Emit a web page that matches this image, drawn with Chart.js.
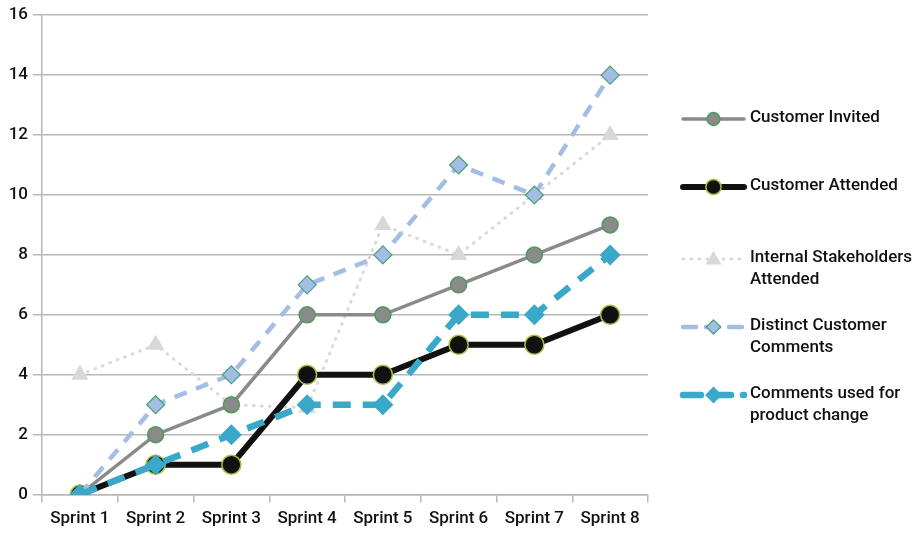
<!DOCTYPE html>
<html>
<head>
<meta charset="utf-8">
<script src="https://cdn.jsdelivr.net/npm/chart.js@4/dist/chart.umd.min.js"></script>
<style>
  html, body { margin: 0; padding: 0; background: #fff; }
  #wrap { width: 919px; height: 534px; position: relative; }
</style>
</head>
<body>
<div id="wrap"><canvas id="c" width="919" height="534"></canvas></div>
<script>
// Sprint review participation and feedback
const sprints = ['Sprint 1', 'Sprint 2', 'Sprint 3', 'Sprint 4', 'Sprint 5', 'Sprint 6', 'Sprint 7', 'Sprint 8'];
const customerInvited = [0, 2, 3, 6, 6, 7, 8, 9];
const customerAttended = [0, 1, 1, 4, 4, 5, 5, 6];
const internalStakeholders = [4, 5, 3, 2.9, 9, 8, 10, 12];
const distinctComments = [0, 3, 4, 7, 8, 11, 10, 14];
const commentsUsed = [0, 1, 2, 3, 3, 6, 6, 8];
const seriesNames = ['Customer Invited', 'Customer Attended', 'Internal Stakeholders\nAttended', 'Distinct Customer\nComments', 'Comments used for\nproduct change'];
const yTicks = [0, 2, 4, 6, 8, 10, 12, 14, 16];

const FONT = 'Roboto, "Liberation Sans", sans-serif';

const datasets = [
  { label: seriesNames[0], data: customerInvited, borderColor: '#8a8a8a', borderWidth: 3.5,
    pointStyle: 'circle', pointRadius: 8, pointBackgroundColor: '#8a8a8a', pointBorderColor: '#4f9a5c', pointBorderWidth: 1.5, order: 4 },
  { label: seriesNames[1], data: customerAttended, borderColor: '#111111', borderWidth: 6,
    pointStyle: 'circle', pointRadius: 9.5, pointBackgroundColor: '#111111', pointBorderColor: '#a8c040', pointBorderWidth: 1.5, order: 3 },
  { label: seriesNames[2], data: internalStakeholders, borderColor: '#dadada', borderWidth: 3, borderDash: [1, 7], borderCapStyle: 'round',
    pointStyle: 'triangle', pointRadius: 10, pointBackgroundColor: '#d8d8d8', pointBorderColor: '#d8d8d8', pointBorderWidth: 0, order: 5 },
  { label: seriesNames[3], data: distinctComments, borderColor: '#a3bde4', borderWidth: 4.5, borderDash: [13, 10],
    pointStyle: 'rectRot', pointRadius: 9, pointBackgroundColor: '#a3bde4', pointBorderColor: '#4aa07a', pointBorderWidth: 1.2, order: 2 },
  { label: seriesNames[4], data: commentsUsed, borderColor: '#3aa8c8', borderWidth: 6.5, borderDash: [18, 12],
    pointStyle: 'rectRot', pointRadius: 10.5, pointBackgroundColor: '#3aa8c8', pointBorderColor: '#3aa8c8', pointBorderWidth: 0, order: 1 }
];
datasets.forEach(d => { d.tension = 0; d.fill = false; d.pointHoverRadius = d.pointRadius; });

// Legend drawn in the right margin, with wrapped labels
const legendRows = [119, 187, 259, 327, 395];
const sideLegend = {
  id: 'sideLegend',
  afterDraw(chart) {
    const ctx = chart.ctx;
    chart.data.datasets.forEach((ds, i) => {
      const y = legendRows[i];
      const x0 = 683, x1 = 744, xm = (x0 + x1) / 2;
      ctx.save();
      ctx.strokeStyle = ds.borderColor;
      ctx.lineWidth = ds.borderWidth;
      ctx.lineCap = ds.borderCapStyle || 'round';
      ctx.setLineDash(ds.borderDash || []);
      ctx.beginPath(); ctx.moveTo(x0, y); ctx.lineTo(x1, y); ctx.stroke();
      ctx.setLineDash([]);
      const r = ds.pointRadius * 0.8;
      ctx.fillStyle = ds.pointBackgroundColor;
      ctx.strokeStyle = ds.pointBorderColor;
      ctx.lineWidth = ds.pointBorderWidth;
      ctx.beginPath();
      if (ds.pointStyle === 'circle') {
        ctx.arc(xm, y, r, 0, Math.PI * 2);
      } else if (ds.pointStyle === 'triangle') {
        ctx.moveTo(xm, y - r); ctx.lineTo(xm + r, y + r * 0.7); ctx.lineTo(xm - r, y + r * 0.7); ctx.closePath();
      } else {
        ctx.moveTo(xm, y - r); ctx.lineTo(xm + r, y); ctx.lineTo(xm, y + r); ctx.lineTo(xm - r, y); ctx.closePath();
      }
      ctx.fill();
      if (ds.pointBorderWidth) ctx.stroke();
      ctx.fillStyle = '#111';
      ctx.font = '500 17px ' + FONT;
      ctx.textAlign = 'left';
      ctx.textBaseline = 'middle';
      ds.label.split('\n').forEach((line, k) => ctx.fillText(line, 750, y - 1 + k * 22));
      ctx.restore();
    });
  }
};

new Chart(document.getElementById('c'), {
  type: 'line',
  data: { labels: sprints, datasets },
  plugins: [sideLegend],
  options: {
    responsive: false,
    animation: false,
    layout: { padding: { top: 13, right: 271, left: 0, bottom: 0 } },
    plugins: { legend: { display: false }, tooltip: { enabled: false } },
    scales: {
      x: {
        offset: true,
        grid: { display: true, drawOnChartArea: false, drawTicks: true, tickLength: 8, color: '#b8b8b8', lineWidth: 1.5, offset: true },
        border: { display: true, color: '#b8b8b8', width: 1.5 },
        ticks: { color: '#111', font: { family: FONT, size: 17, weight: '500' }, padding: 5.5, maxRotation: 0 }
      },
      y: {
        min: 0, max: 16,
        afterBuildTicks(scale) { scale.ticks = yTicks.map(v => ({ value: v })); },
        afterFit(scale) { scale.width = 42; },
        grid: { color: '#b8b8b8', lineWidth: 1.5, tickLength: 9 },
        border: { display: true, color: '#b8b8b8', width: 1.5 },
        ticks: { color: '#111', font: { family: FONT, size: 17, weight: '500' }, padding: 5 }
      }
    }
  }
});
</script>
</body>
</html>
